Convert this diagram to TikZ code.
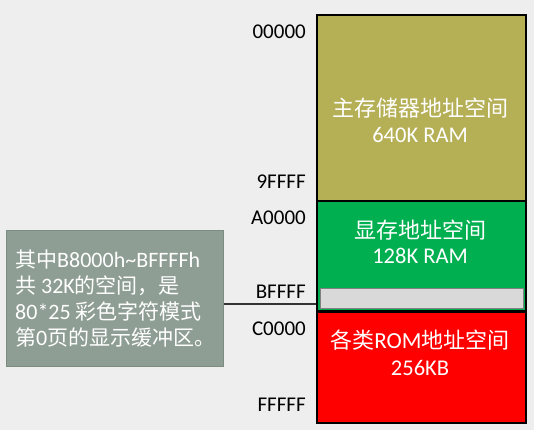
\documentclass[tikz,border=0pt]{standalone}
\usepackage{fontspec}
\setmainfont{Carlito}
\newfontfamily\cjk{Noto Sans CJK SC}
\definecolor{bgc}{HTML}{EEEEEE}
\definecolor{olivec}{HTML}{B5AF55}
\definecolor{greenc}{HTML}{00B050}
\definecolor{redc}{HTML}{FF0000}
\definecolor{notec}{HTML}{8F9E94}
\definecolor{noteb}{HTML}{7D8C83}
\definecolor{barc}{HTML}{D9D9D9}
\definecolor{barb}{HTML}{808080}
\definecolor{linec}{HTML}{333333}
\tikzset{
  membox/.style={draw=black, line width=2pt, inner sep=0pt, anchor=north west, minimum width=209pt},
  addr/.style={anchor=east, inner sep=0pt, font=\fontsize{21}{24}\selectfont, text=black},
  title/.style={inner sep=0pt, text=white, font=\fontsize{22}{26}\selectfont\cjk},
  sub/.style={inner sep=0pt, text=white, font=\fontsize{22.5}{26}\selectfont},
}
\begin{document}
\begin{tikzpicture}[x=1pt,y=-1pt]
\fill[bgc] (0,0) rectangle (534,430);
\useasboundingbox (0,0) rectangle (534,430);
% memory boxes
\node[membox, fill=olivec, minimum height=186pt] (main) at (316,14) {};
\node[membox, fill=greenc, minimum height=110pt] (vram) at (316,200) {};
\node[membox, fill=redc, minimum height=111pt] (rom) at (316,311) {};
\node[draw=barb, line width=0.8pt, fill=barc, inner sep=0pt, anchor=north west, minimum width=203pt, minimum height=20pt] (bar) at (320,288) {};
% titles
\node[title] (t1) at (420,108) {主存储器地址空间};
\node[sub] (s1) at (420,135) {640K RAM};
\node[title] (t2) at (420,230) {显存地址空间};
\node[sub] (s2) at (420,256) {128K RAM};
\node[title] (t3) at (420,340) {各类{\fontsize{23}{26}\selectfont\rmfamily ROM}地址空间};
\node[sub] (s3) at (420,368) {256KB};
% address labels
\node[addr] (a1) at (306,32) {00000};
\node[addr] (a2) at (306,182) {9FFFF};
\node[addr] (a3) at (306,218) {A0000};
\node[addr] (a4) at (306,292) {BFFFF};
\node[addr] (a5) at (306,329) {C0000};
\node[addr] (a6) at (306,405) {FFFFF};
% note box
\node[draw=noteb, line width=1pt, fill=notec, inner sep=0pt, anchor=north west, minimum width=217pt, minimum height=136pt] (note) at (6,230) {};
\node[anchor=west, inner sep=0pt, align=left, text=white, font=\fontsize{22}{26}\selectfont] (notetext) at (15,298.5)
 {{\cjk\fontsize{21}{26}\selectfont 其中}B8000h\textasciitilde BFFFFh\\
  {\cjk\fontsize{21}{26}\selectfont 共} 32K{\cjk\fontsize{21}{26}\selectfont 的空间，是}\\
  80*25 {\cjk\fontsize{21}{26}\selectfont 彩色字符模式}\\
  {\cjk\fontsize{21}{26}\selectfont 第}0{\cjk\fontsize{21}{26}\selectfont 页的显示缓冲区。}};
% connector
\coordinate (c) at (316,304);
\draw[linec, line width=2pt] (note.east |- c) -- (c);
\end{tikzpicture}
\end{document}
